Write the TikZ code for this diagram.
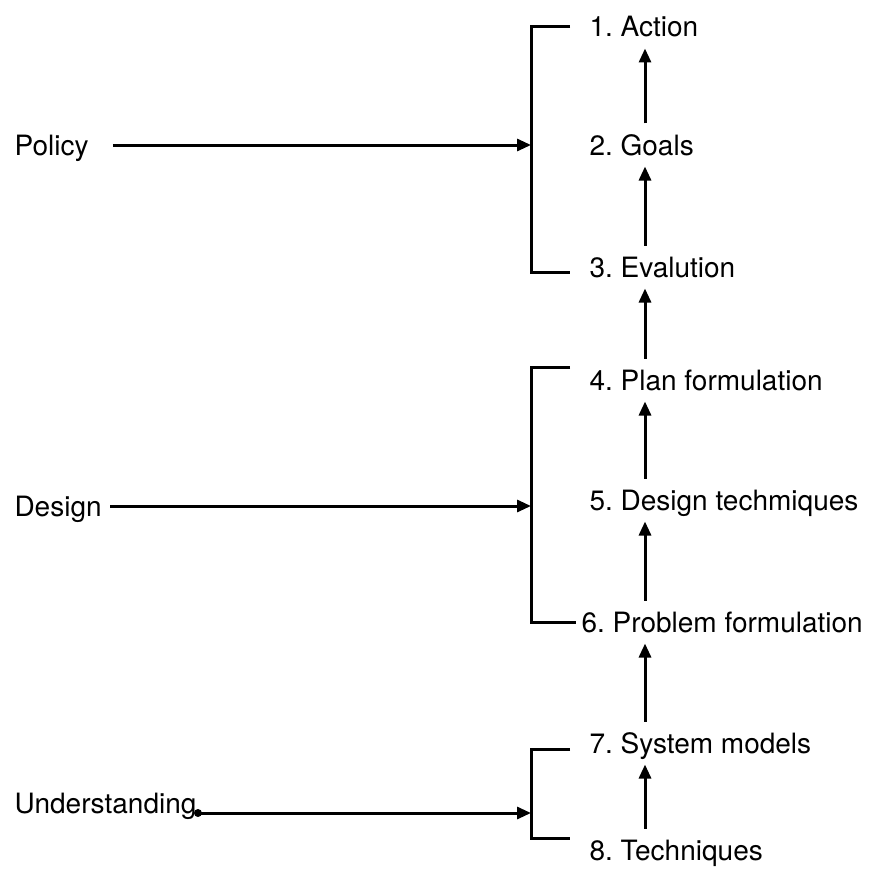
\documentclass[tikz,border=0pt]{standalone}
\usepackage{fontspec}
\setmainfont{TeX Gyre Heros}
\usepackage{tikz}
\usetikzlibrary{arrows.meta}
\usetikzlibrary{calc, positioning}
\tikzstyle{level}=[anchor=west, inner sep=4pt, text height=20pt, text depth=0pt]
\tikzstyle{source}=[anchor=west, inner sep=4pt, text height=20pt, text depth=0pt]
\frenchspacing

\begin{document}
\begin{tikzpicture}[x=1pt, y=-1pt, line width=3pt]

\tikzset{>={Triangle[length=14pt, width=12pt]}}
\tikzset{every node/.style={font=\fontsize{28pt}{30pt}\selectfont}}

\useasboundingbox (0,0) rectangle (870,872);

% Levels
\node[level] (n1) at (584,27)  {1. Action};
\node[level] (n2) at (584,145) {2. Goals};
\node[level] (n3) at (584,267) {3. Evalution};
\node[level] (n4) at (584,380) {4. Plan formulation};
\node[level] (n5) at (584,500) {5. Design techmiques};
\node[level] (n6) at (576,622) {6. Problem formulation};
\node[level] (n7) at (584,743) {7. System models};
\node[level] (n8) at (584,850) {8. Techniques};

% Sources
\node[source] (pol) at (9,145) {Policy};
\node[source] (des) at (9,506) {Design};
\node[source] (und) at (9,803) {Understanding};

\coordinate (bx) at (531,0); % bracket line
\coordinate (ax) at (645,0); % arrow column

% Brackets
\draw ([xshift=-14pt]n1.west) -- (n1.west -| bx) -- ([yshift=-5pt]n3.west -| bx) -- ([xshift=-14pt,yshift=-5pt]n3.west);
\draw ([xshift=-14pt,yshift=13pt]n4.west) -- ([yshift=13pt]n4.west -| bx) -- (n6.west -| bx) -- (n6.west);
\draw ([xshift=-14pt,yshift=-6pt]n7.west) -- ([yshift=-6pt]n7.west -| bx) -- ([yshift=12pt]n8.west -| bx) -- ([xshift=-14pt,yshift=12pt]n8.west);

% Sources -> brackets
\draw[->, shorten <=19pt] (pol.east) -- (pol.east -| bx); % policy
\draw[->, shorten <=3pt] (des.east) -- (des.east -| bx); % design
\fill ([xshift=-4pt]und.base east) circle (4pt);
\draw[->] ([xshift=-4pt]und.base east) -- (und.base east -| bx); % understanding

% Chain upwards
\foreach \a/\b in {n2/n1, n3/n2, n4/n3, n5/n4, n6/n5, n7/n6, n8/n7}
  \draw[->, shorten <=6pt, shorten >=6pt] (\a.north -| ax) -- (\b.south -| ax);

\end{tikzpicture}
\end{document}
